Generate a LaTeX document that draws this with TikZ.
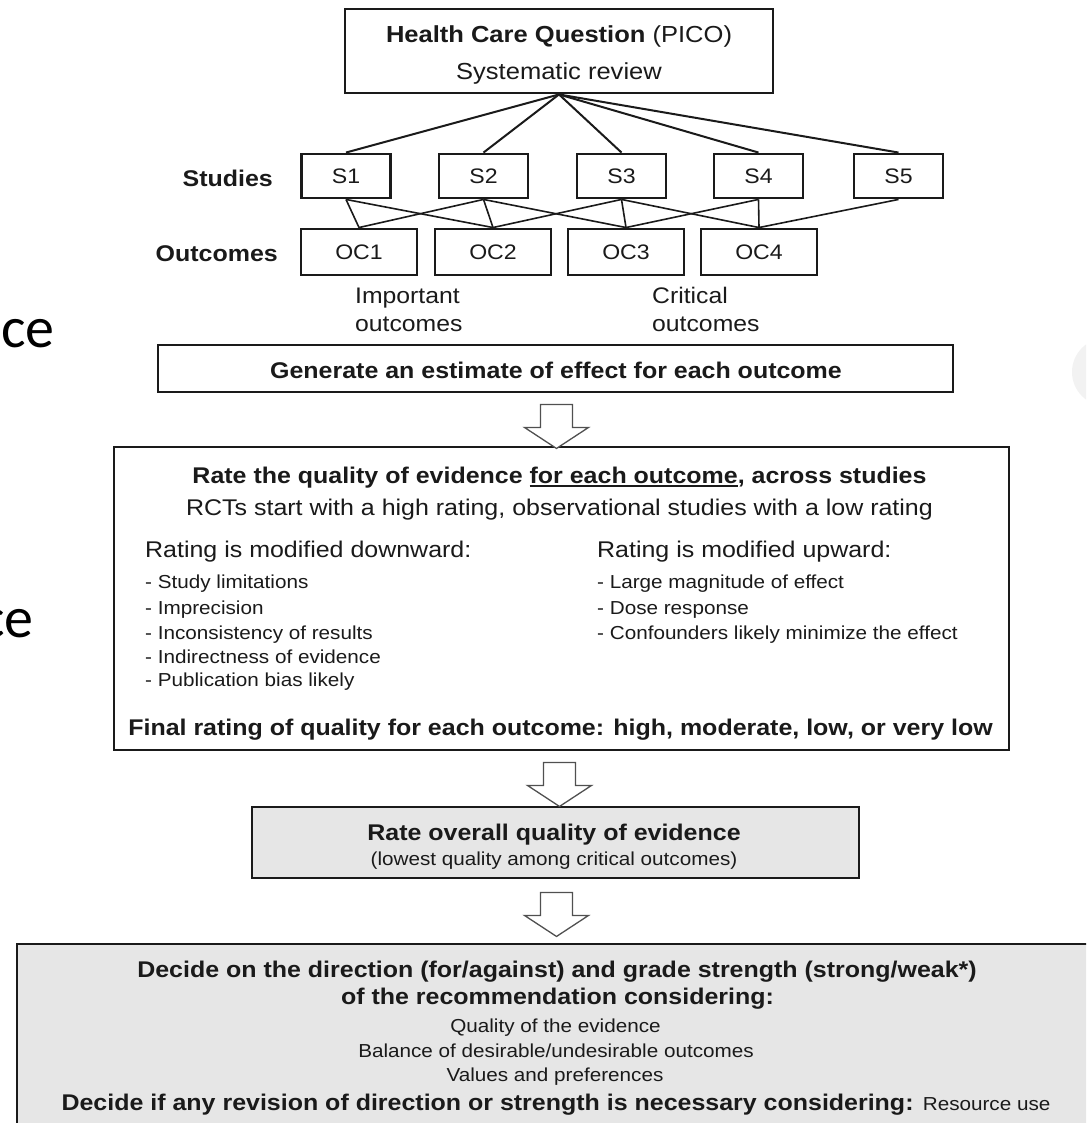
\documentclass[tikz,border=0pt]{standalone}
\usepackage{fontspec}
\setmainfont{Liberation Sans}[FakeStretch=1.1]
\newfontfamily\slidefont{Carlito}
\usetikzlibrary{calc}

\definecolor{ink}{HTML}{1A1A1A}
\definecolor{panel}{HTML}{E6E6E6}
\definecolor{arrowline}{HTML}{505050}

\newcommand\hdsz{\fontsize{23.2}{27}\selectfont}
\newcommand\bigsz{\fontsize{22.7}{27}\selectfont}
\newcommand\midsz{\fontsize{21}{25}\selectfont}
\newcommand\lblsz{\fontsize{22.5}{27}\selectfont}
\newcommand\smallsz{\fontsize{18.8}{22}\selectfont}
\newcommand\ulinetext[1]{\setbox0=\hbox{#1}\rlap{\rule[-3.5pt]{\wd0}{1.6pt}}\box0}

\tikzset{
  box/.style={draw=ink, line width=2.9pt, inner sep=0pt},
  sbox/.style={box, minimum width=89pt, minimum height=44pt, font=\midsz, text=ink},
  ocbox/.style={box, minimum width=116pt, minimum height=46pt, font=\midsz, text=ink},
  txt/.style={inner sep=0pt, anchor=base, text=ink},
  link/.style={draw=ink, line width=2pt},
  thinlink/.style={draw=ink, line width=1.6pt},
  hollow/.style={draw=arrowline, fill=white, line width=1.3pt, line join=miter}
}

\begin{document}
\begin{tikzpicture}[x=1pt, y=-1pt]
\useasboundingbox (0,0) rectangle (1086,1123);
\clip (0,0) rectangle (1086,1123);
\fill[white] (0,0) rectangle (1086,1123);

% slide text and shape peeking in at the edges
\node[inner sep=0pt, anchor=base west, font=\slidefont\fontsize{58}{60}\selectfont] (ce1) at (1,347) {ce};
\node[inner sep=0pt, anchor=base west, font=\slidefont\fontsize{58}{60}\selectfont] (ce2) at (-20,637) {ce};
\fill[black!5] (1106,372) circle (34pt);

% question box
\node[box, minimum width=428pt, minimum height=84pt] (top) at (559,51) {};
\node[txt, font=\hdsz] (hq) at (559,43) {\textbf{Health Care Question} (PICO)};
\node[txt, font=\hdsz] (sr) at (559,80) {Systematic review};

% studies and outcomes
\node[txt, anchor=base east, font=\bigsz\bfseries] (lstud) at (273,187) {Studies};
\node[txt, anchor=base east, font=\bigsz\bfseries] (lout) at (278,261) {Outcomes};

\node[sbox] (s1) at (346,176) {S1};
\node[sbox] (s2) at (483.5,176) {S2};
\node[sbox] (s3) at (621.5,176) {S3};
\node[sbox] (s4) at (758.5,176) {S4};
\node[sbox] (s5) at (898.5,176) {S5};

\node[ocbox] (oc1) at (359,252) {OC1};
\node[ocbox] (oc2) at (493,252) {OC2};
\node[ocbox] (oc3) at (626,252) {OC3};
\node[ocbox] (oc4) at (759,252) {OC4};

\foreach \s in {s1,s2,s3,s4,s5}
  \draw[link] (top.south) -- (\s.north);

\foreach \s/\o in {s1/oc1, s1/oc2, s2/oc1, s2/oc2, s2/oc3, s3/oc2, s3/oc3, s3/oc4, s4/oc3, s4/oc4, s5/oc4}
  \draw[thinlink] (\s.south) -- (\o.north);

\node[txt, anchor=base west, font=\lblsz] (imp1) at (355,303) {Important};
\node[txt, anchor=base west, font=\lblsz] (imp2) at (355,331) {outcomes};
\node[txt, anchor=base west, font=\lblsz] (crit1) at (652,303) {Critical};
\node[txt, anchor=base west, font=\lblsz] (crit2) at (652,331) {outcomes};

% estimate box
\node[box, minimum width=795pt, minimum height=47pt] (gen) at (555.5,368.5) {};
\node[txt, font=\bigsz\bfseries] (gent) at (556,378) {Generate an estimate of effect for each outcome};

% quality rating box
\node[box, minimum width=895pt, minimum height=303pt] (rate) at (561.5,598.5) {};
\node[txt, font=\bigsz\bfseries] (rq1) at (559.5,483) {Rate the quality of evidence \ulinetext{for each outcome}, across studies};
\node[txt, font=\bigsz] (rq2) at (559.5,515) {RCTs start with a high rating, observational studies with a low rating};

\node[txt, anchor=base west, font=\bigsz] (dn0) at (145,557) {Rating is modified downward:};
\node[txt, anchor=base west, font=\smallsz] (dn1) at (145,588) {- Study limitations};
\node[txt, anchor=base west, font=\smallsz] (dn2) at (145,614) {- Imprecision};
\node[txt, anchor=base west, font=\smallsz] (dn3) at (145,639) {- Inconsistency of results};
\node[txt, anchor=base west, font=\smallsz] (dn4) at (145,663) {- Indirectness of evidence};
\node[txt, anchor=base west, font=\smallsz] (dn5) at (145,686) {- Publication bias likely};

\node[txt, anchor=base west, font=\bigsz] (up0) at (597,557) {Rating is modified upward:};
\node[txt, anchor=base west, font=\smallsz] (up1) at (597,588) {- Large magnitude of effect};
\node[txt, anchor=base west, font=\smallsz] (up2) at (597,614) {- Dose response};
\node[txt, anchor=base west, font=\smallsz] (up3) at (597,639) {- Confounders likely minimize the effect};

\node[txt, font=\bigsz\bfseries] (fr) at (560.5,735.5) {Final rating of quality for each outcome: high, moderate, low, or very low};

% overall quality box
\node[box, fill=panel, minimum width=607pt, minimum height=71pt] (overall) at (555.5,842.5) {};
\node[txt, font=\bigsz\bfseries] (ov1) at (554,840) {Rate overall quality of evidence};
\node[txt, font=\smallsz] (ov2) at (554,865) {(lowest quality among critical outcomes)};

% recommendation box
\node[box, fill=panel, minimum width=1102pt, minimum height=216pt] (rec) at (568,1052) {};
\node[txt, font=\bigsz\bfseries] (fd1) at (557,977) {Decide on the direction (for/against) and grade strength (strong/weak*)};
\node[txt, font=\bigsz\bfseries] (fd2) at (557.5,1004) {of the recommendation considering:};
\node[txt, font=\smallsz] (fd3) at (555.5,1032) {Quality of the evidence};
\node[txt, font=\smallsz] (fd4) at (556,1057) {Balance of desirable/undesirable outcomes};
\node[txt, font=\smallsz] (fd5) at (555,1081) {Values and preferences};
\node[txt, font=\bigsz\bfseries] (fd6) at (556,1110) {Decide if any revision of direction or strength is necessary considering: {\smallsz\mdseries Resource use}};

% hollow arrows between the stages
\coordinate (a1) at ($(gen.south)+(1,11)$);
\coordinate (a2) at ($(rate.south)+(-2,11)$);
\coordinate (a3) at ($(overall.south)+(1,13)$);
\foreach \a in {a1,a2,a3}
  \draw[hollow] (\a) ++(-16,0) -- ++(32,0) -- ++(0,23) -- ++(16,0) -- ++(-32,21) -- ++(-32,-21) -- ++(16,0) -- cycle;
\end{tikzpicture}
\end{document}
